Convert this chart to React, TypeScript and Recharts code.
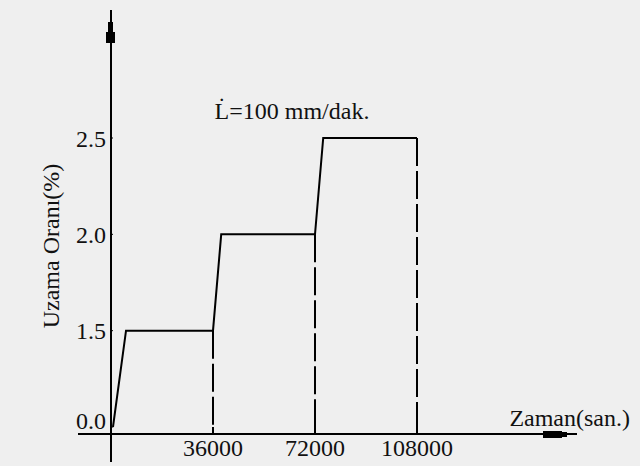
import { LineChart, Line, XAxis, YAxis } from 'recharts';

// step profile (time in s, elongation in %)
const stepTimes = [700, 5300, 36000, 38900, 72000, 74900, 108000];
const stepLevels = [0, 1.5, 1.5, 2.0, 2.0, 2.5, 2.5];

// dashed drop lines at the end of each hold
const dropTimes = [36000, 72000, 108000];
const dropLevels = [1.5, 2.0, 2.5];

const timeTicks = [36000, 72000, 108000];
const levelTicks = [0, 1.5, 2.0, 2.5];

const FONT = '"Liberation Serif", "DejaVu Serif", "Times New Roman", serif';
const INK = '#111';

const stepData = stepTimes.map((t, i) => ({ t, v: stepLevels[i] }));
const dropData = dropTimes.map((t, i) => [
  { t, v: dropLevels[i] },
  { t, v: 0 },
]);

// y tick labels; the 0.0 label sits a little higher, clear of the time axis
const LevelTick = (props: any) => {
  const { x, y, payload } = props;
  const lift = payload.value === 0 ? -7 : 0;
  return (
    <text
      x={x}
      y={y + lift}
      dy="0.355em"
      textAnchor="end"
      fontSize={24}
      fontFamily={FONT}
      fill={INK}
    >
      {Number(payload.value).toFixed(1)}
    </text>
  );
};

// axis extensions and the crude arrow heads of the original drawing
function AxisDecor() {
  return (
    <svg
      width={640}
      height={466}
      style={{ position: 'absolute', left: 0, top: 0, pointerEvents: 'none' }}
    >
      <line x1={78} y1={434} x2={111} y2={434} stroke="#000" strokeWidth={2} />
      <line x1={111} y1={434} x2={111} y2={462} stroke="#000" strokeWidth={2} />
      <rect x={108} y={22} width={5} height={10} fill="#000" />
      <rect x={106} y={32} width={9} height={11} fill="#000" />
      <rect x={543} y={431} width={19} height={7} fill="#000" />
      <rect x={561} y={432} width={6} height={5} fill="#000" />
      <text
        x={292}
        y={119}
        textAnchor="middle"
        fontSize={24}
        fontFamily={FONT}
        fill={INK}
      >
        L̇=100 mm/dak.
      </text>
    </svg>
  );
}

export default function App() {
  return (
    <div
      style={{
        position: 'absolute',
        left: 0,
        top: 0,
        width: 640,
        height: 466,
        background: '#efefef',
        fontFamily: FONT,
      }}
    >
      <LineChart
        width={640}
        height={466}
        margin={{ top: 10, right: 63, bottom: 2, left: 0 }}
      >
        <XAxis
          type="number"
          dataKey="t"
          domain={[0, 164470]}
          ticks={timeTicks}
          allowDataOverflow
          interval={0}
          height={30}
          tickSize={-7}
          tickMargin={12}
          tickLine={{ stroke: '#000', strokeWidth: 2 }}
          axisLine={{ stroke: '#000', strokeWidth: 2 }}
          tick={{ fontSize: 24, fill: INK, fontFamily: FONT }}
          label={{
            value: 'Zaman(san.)',
            position: 'insideRight',
            offset: -53,
            dy: -32,
            fontSize: 24,
            fill: INK,
            fontFamily: FONT,
          }}
        />
        <YAxis
          type="category"
          scale="point"
          allowDuplicatedCategory={false}
          ticks={levelTicks}
          interval={0}
          width={111}
          padding={{ top: 128, bottom: 7 }}
          tickSize={-2}
          tickMargin={7}
          tickLine={{ stroke: '#000', strokeWidth: 1 }}
          axisLine={{ stroke: '#000', strokeWidth: 2 }}
          tick={<LevelTick />}
          label={{
            value: 'Uzama Oranı(%)',
            angle: -90,
            position: 'center',
            dx: -5,
            dy: 24,
            fontSize: 24,
            fill: INK,
            fontFamily: FONT,
          }}
        />
        <Line
          data={stepData}
          dataKey="v"
          stroke="#000"
          strokeWidth={2}
          dot={false}
          isAnimationActive={false}
        />
        {dropData.map((d, i) => (
          <Line
            key={i}
            data={d}
            dataKey="v"
            stroke="#000"
            strokeWidth={2}
            strokeDasharray="28 5"
            dot={false}
            isAnimationActive={false}
          />
        ))}
      </LineChart>
      <AxisDecor />
    </div>
  );
}
